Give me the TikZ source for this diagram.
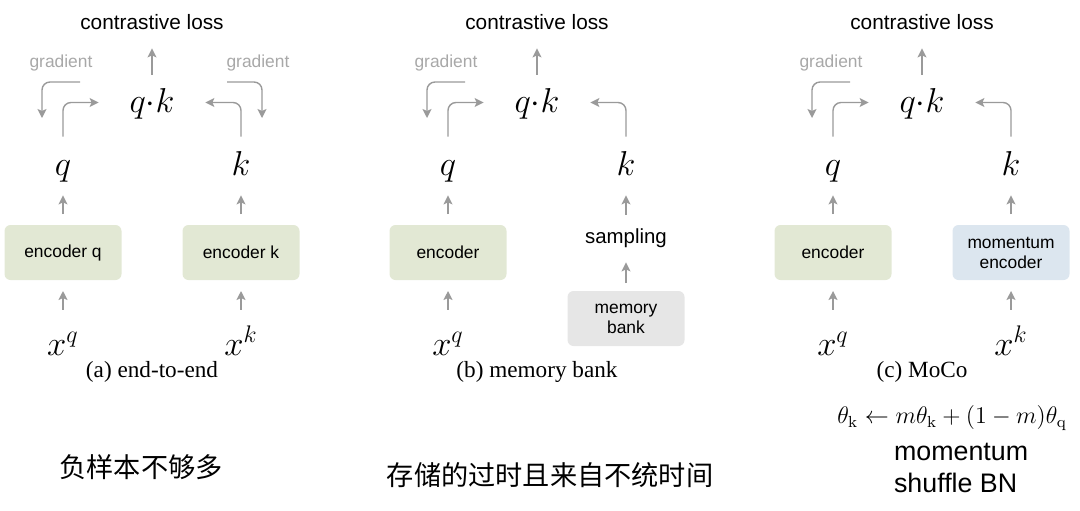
\RequirePackage{fix-cm}
\documentclass[tikz,border=0pt]{standalone}
\usepackage[no-math]{fontspec}
\setmainfont{Liberation Serif}
\setsansfont{Liberation Sans}
\newfontfamily\cjkfont{Noto Sans CJK SC}
\usetikzlibrary{arrows.meta}
\definecolor{cArrow}{HTML}{9A9A9A}
\definecolor{cGrad}{HTML}{A8A8A8}
\definecolor{cEncGreen}{HTML}{E2E8D4}
\definecolor{cEncBlue}{HTML}{DCE6EF}
\definecolor{cBank}{HTML}{E6E6E6}

\begin{document}
\begin{tikzpicture}[x=0.5pt,y=-0.5pt,
  enc/.style={rounded corners=3pt,minimum width=58.5pt,minimum height=27.5pt,
              inner sep=0pt,outer sep=5.5pt,align=center,
              font=\sffamily\fontsize{8.7}{10}\selectfont},
  sym/.style={anchor=base,inner sep=0pt,text height=19pt,text depth=10pt,
              font=\fontsize{17.28}{20}\selectfont},
  inp/.style={anchor=base,inner sep=0pt,text height=22.5pt,text depth=4pt,
              font=\fontsize{17.28}{20}\selectfont},
  prod/.style={anchor=base,inner sep=0pt,text height=18.5pt,text depth=9pt,
               minimum width=53pt,font=\fontsize{17.28}{20}\selectfont},
  loss/.style={anchor=base,inner sep=0pt,text height=8pt,text depth=9.5pt,
               font=\sffamily\fontsize{10.4}{12}\selectfont},
  samp/.style={anchor=base,inner sep=0pt,text height=14pt,text depth=9.5pt,
               font=\sffamily\fontsize{10.2}{12}\selectfont},
  capt/.style={font=\fontsize{11.6}{14}\selectfont},
  gradlbl/.style={text=cGrad,font=\sffamily\fontsize{8.7}{10}\selectfont},
  remark/.style={align=left,font=\sffamily\fontsize{13.4}{16}\selectfont},
  cjk/.style={font=\cjkfont\fontsize{13.6}{16}\selectfont},
  ar/.style={-{Stealth[length=4.5pt,width=4.5pt,inset=1pt]},line width=0.7pt,cArrow},
  elbow/.style={ar,rounded corners=4pt}]

\useasboundingbox (0,0) rectangle (1080,510);

% (a) end-to-end
\node[loss] (lossa) at (152,29) {contrastive loss};
\node[prod] (qka) at (152,112) {$q{\cdot}k$};
\node[sym] (qa) at (63,175) {$q$};
\node[sym] (ka) at (241,175) {$k$};
\node[enc,fill=cEncGreen] (encqa) at (63,252.5) {encoder q};
\node[enc,fill=cEncGreen] (encka) at (241,252.5) {encoder k};
\node[inp] (xqa) at (63,355) {$x^q$};
\node[inp] (xka) at (241,355) {$x^k$};
\node[capt] (capa) at (152,372) {(a) end-to-end};
\node[gradlbl] (gla) at (61,63) {gradient};
\node[gradlbl] (gra) at (258,63) {gradient};
\coordinate (gla1) at (80,82);
\coordinate (gla2) at (42,118);
\coordinate (gra1) at (227,82);
\coordinate (gra2) at (262,118);

\draw[ar] (qka) -- (lossa);
\draw[elbow] (qa) |- (qka);
\draw[elbow] (ka) |- (qka);
\draw[ar] (encqa) -- (qa);
\draw[ar] (encka) -- (ka);
\draw[ar] (xqa) -- (encqa);
\draw[ar] (xka) -- (encka);
\draw[elbow] (gla1) -| (gla2);
\draw[elbow] (gra1) -| (gra2);

% (b) memory bank
\node[loss] (lossb) at (537,29) {contrastive loss};
\node[prod] (qkb) at (537,112) {$q{\cdot}k$};
\node[sym] (qb) at (448,175) {$q$};
\node[sym] (kb) at (626,175) {$k$};
\node[enc,fill=cEncGreen] (encb) at (448,252.5) {encoder};
\node[samp] (sampb) at (626,243) {sampling};
\node[enc,fill=cBank,outer sep=4pt] (bankb) at (626,318.5) {memory\\bank};
\node[inp] (xqb) at (448,355) {$x^q$};
\node[capt] (capb) at (537,372) {(b) memory bank};
\node[gradlbl] (glb) at (446,63) {gradient};
\coordinate (glb1) at (465,82);
\coordinate (glb2) at (427,118);

\draw[ar] (qkb) -- (lossb);
\draw[elbow] (qb) |- (qkb);
\draw[elbow] (kb) |- (qkb);
\draw[ar] (encb) -- (qb);
\draw[ar] (xqb) -- (encb);
\draw[ar] (sampb) -- (kb);
\draw[ar] (bankb) -- (sampb);
\draw[elbow] (glb1) -| (glb2);

% (c) MoCo
\node[loss] (lossc) at (922,29) {contrastive loss};
\node[prod] (qkc) at (922,112) {$q{\cdot}k$};
\node[sym] (qc) at (833,175) {$q$};
\node[sym] (kc) at (1011,175) {$k$};
\node[enc,fill=cEncGreen] (encc) at (833,252.5) {encoder};
\node[enc,fill=cEncBlue] (mencc) at (1011,252.5) {momentum\\encoder};
\node[inp] (xqc) at (833,355) {$x^q$};
\node[inp] (xkc) at (1011,355) {$x^k$};
\node[capt] (capc) at (922,372) {(c) MoCo};
\node[gradlbl] (glc) at (831,63) {gradient};
\coordinate (glc1) at (850,82);
\coordinate (glc2) at (812,118);

\draw[ar] (qkc) -- (lossc);
\draw[elbow] (qc) |- (qkc);
\draw[elbow] (kc) |- (qkc);
\draw[ar] (encc) -- (qc);
\draw[ar] (mencc) -- (kc);
\draw[ar] (xqc) -- (encc);
\draw[ar] (xkc) -- (mencc);
\draw[elbow] (glc1) -| (glc2);

\node[font=\fontsize{12}{14}\selectfont] (upd) at (952,418)
  {$\theta_{\mathrm{k}} \leftarrow m\theta_{\mathrm{k}} + (1-m)\theta_{\mathrm{q}}$};
\node[remark,anchor=west] (trick) at (887,468) {momentum\\shuffle BN};

\node[cjk] (nota) at (141,467) {负样本不够多};
\node[cjk] (notb) at (550,475) {存储的过时且来自不统时间};
\end{tikzpicture}
\end{document}
